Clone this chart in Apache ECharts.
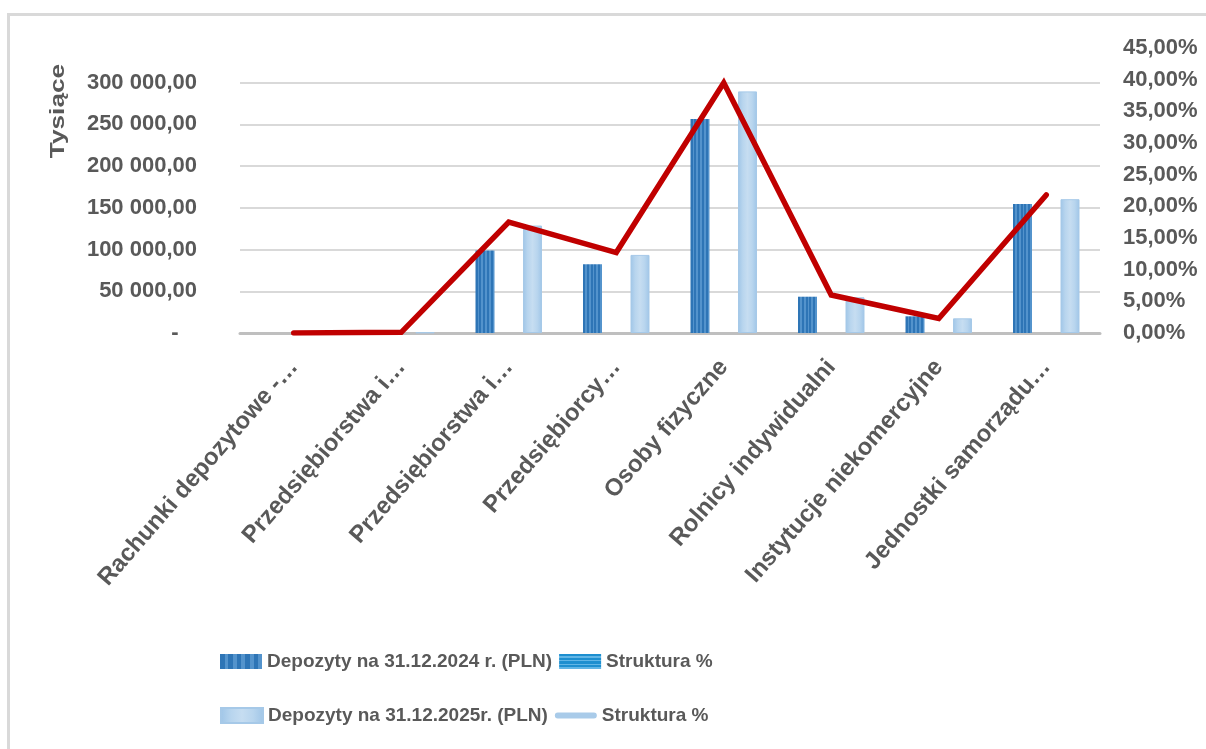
<!DOCTYPE html>
<html>
<head>
<meta charset="utf-8">
<script src="https://cdn.jsdelivr.net/npm/echarts@6/dist/echarts.min.js"></script>
<style>
  html, body { margin: 0; padding: 0; background: #ffffff; }
  #chart { width: 1206px; height: 749px; }
</style>
</head>
<body>
<div id="chart"></div>
<script>
// ---- data ----
const categories = [
  'Rachunki depozytowe -…',
  'Przedsiębiorstwa i…',
  'Przedsiębiorstwa i…',
  'Przedsiębiorcy…',
  'Osoby fizyczne',
  'Rolnicy indywidualni',
  'Instytucje niekomercyjne',
  'Jednostki samorządu…'
];
const dep2024 = [0, 500, 99000, 82500, 256500, 43500, 20000, 154500];
const dep2025 = [0, 700, 128800, 93600, 289600, 42800, 17600, 160400];
const struktura2025 = [0.0, 0.001, 0.175, 0.127, 0.395, 0.060, 0.023, 0.218];
const struktura2024 = [];

const name2024 = 'Depozyty na 31.12.2024 r. (PLN)';
const name2025 = 'Depozyty na 31.12.2025r. (PLN)';
const nameStr1 = 'Struktura %';
const nameStr2 = 'Struktura % ';

const leftTicks = { min: 0, max: 341600, interval: 50000 };
const rightTicks = { min: 0, max: 0.45, interval: 0.05 };

// ---- styles ----
const FONT = 'Liberation Sans, Arial, sans-serif';
const TXT = '#595959';

function stripes(horizontal, c1, c2, n) {
  const stops = [];
  for (let i = 0; i < n; i++) {
    const a = i / n, m = (i + 0.55) / n, b = (i + 1) / n;
    stops.push({ offset: a, color: c1 }, { offset: m, color: c1 },
               { offset: m, color: c2 }, { offset: b, color: c2 });
  }
  return horizontal
    ? { type: 'linear', x: 0, y: 0, x2: 0, y2: 1, colorStops: stops }
    : { type: 'linear', x: 0, y: 0, x2: 1, y2: 0, colorStops: stops };
}
const bar2024Color = stripes(false, '#2e75b6', '#5393cc', 5);
const bar2025Color = {
  type: 'linear', x: 0, y: 0, x2: 1, y2: 0,
  colorStops: [
    { offset: 0, color: '#9fc5e7' },
    { offset: 0.25, color: '#b8d5ee' },
    { offset: 0.5, color: '#c6ddf1' },
    { offset: 0.75, color: '#b8d5ee' },
    { offset: 1, color: '#9fc5e7' }
  ]
};
const legendStr1Color = stripes(true, '#1d8fd0', '#62b6e6', 4);

const chart = echarts.init(document.getElementById('chart'));
chart.setOption({
  backgroundColor: '#ffffff',
  animation: false,
  textStyle: { fontFamily: FONT },
  grid: { left: 240, right: 106, top: 48, bottom: 416, containLabel: false },
  legend: [
    {
      left: 215, top: 647, itemWidth: 42, itemHeight: 15, itemGap: 7,
      selectedMode: false,
      textStyle: { fontFamily: FONT, fontSize: 19, fontWeight: 'bold', color: TXT },
      data: [
        { name: name2024, icon: 'rect' },
        { name: nameStr1, icon: 'rect', itemStyle: { color: legendStr1Color, borderWidth: 0 } }
      ]
    },
    {
      left: 215, top: 701, itemWidth: 42, itemHeight: 15, itemGap: 7,
      selectedMode: false,
      textStyle: { fontFamily: FONT, fontSize: 19, fontWeight: 'bold', color: TXT },
      data: [
        { name: name2025, icon: 'rect' },
        { name: nameStr2,
          icon: 'path://M7,0 L93,0 A7,7 0 0 1 93,14 L7,14 A7,7 0 0 1 7,0 Z',
          itemStyle: { color: '#a9cbe9', borderWidth: 0 } }
      ]
    }
  ],
  xAxis: {
    type: 'category',
    data: categories,
    boundaryGap: true,
    axisTick: { show: false },
    axisLine: { lineStyle: { color: '#bfbfbf', width: 3 } },
    axisLabel: {
      interval: 0, rotate: 49, margin: 30,
      fontFamily: FONT, fontSize: 24, fontWeight: 'bold', color: TXT
    }
  },
  yAxis: [
    {
      type: 'value',
      min: leftTicks.min, max: leftTicks.max, interval: leftTicks.interval,
      axisLine: { show: false },
      axisTick: { show: false },
      splitLine: { show: true, showMinLine: false, showMaxLine: false,
                   lineStyle: { color: '#d9d9d9', width: 2 } },
      axisLabel: {
        showMaxLabel: false, margin: 43,
        fontFamily: FONT, fontSize: 22, fontWeight: 'bold', color: TXT,
        formatter: function (v) {
          if (v % leftTicks.interval !== 0) return '';
          if (v === 0) return '-   ';
          return String(v).replace(/\B(?=(\d{3})+(?!\d))/g, ' ') + ',00';
        }
      }
    },
    {
      type: 'value',
      min: rightTicks.min, max: rightTicks.max, interval: rightTicks.interval,
      axisLine: { show: false },
      axisTick: { show: false },
      splitLine: { show: false },
      axisLabel: {
        margin: 23, align: 'left',
        fontFamily: FONT, fontSize: 22, fontWeight: 'bold', color: TXT,
        formatter: function (v) { return (v * 100).toFixed(2).replace('.', ',') + '%'; }
      }
    }
  ],
  graphic: [
    {
      type: 'rect', silent: true, z: -10,
      shape: { x: 8.5, y: 14.5, width: 1400, height: 900 },
      style: { fill: 'none', stroke: '#d9d9d9', lineWidth: 3 }
    },
    {
      type: 'text', silent: true,
      x: 58, y: 111, rotation: Math.PI / 2, scaleX: 1.25,
      style: {
        text: 'Tysiące', align: 'center', verticalAlign: 'middle',
        font: 'bold 21px ' + FONT, fill: TXT
      }
    }
  ],
  series: [
    {
      name: name2024, type: 'bar', yAxisIndex: 0,
      data: dep2024, barWidth: 19, barGap: '150%',
      itemStyle: { color: bar2024Color }
    },
    {
      name: name2025, type: 'bar', yAxisIndex: 0,
      data: dep2025, barWidth: 19, barGap: '150%',
      itemStyle: { color: bar2025Color, borderColor: '#a6c9e8', borderWidth: 1 }
    },
    {
      name: nameStr1, type: 'line', yAxisIndex: 1,
      data: struktura2024, symbol: 'none',
      lineStyle: { color: '#1d8fd0', width: 4 }
    },
    {
      name: nameStr2, type: 'line', yAxisIndex: 1,
      data: struktura2025, symbol: 'none', z: 5,
      itemStyle: { color: '#c00000' },
      lineStyle: { color: '#c00000', width: 5.5, cap: 'round', join: 'miter' }
    }
  ]
});
</script>
</body>
</html>
